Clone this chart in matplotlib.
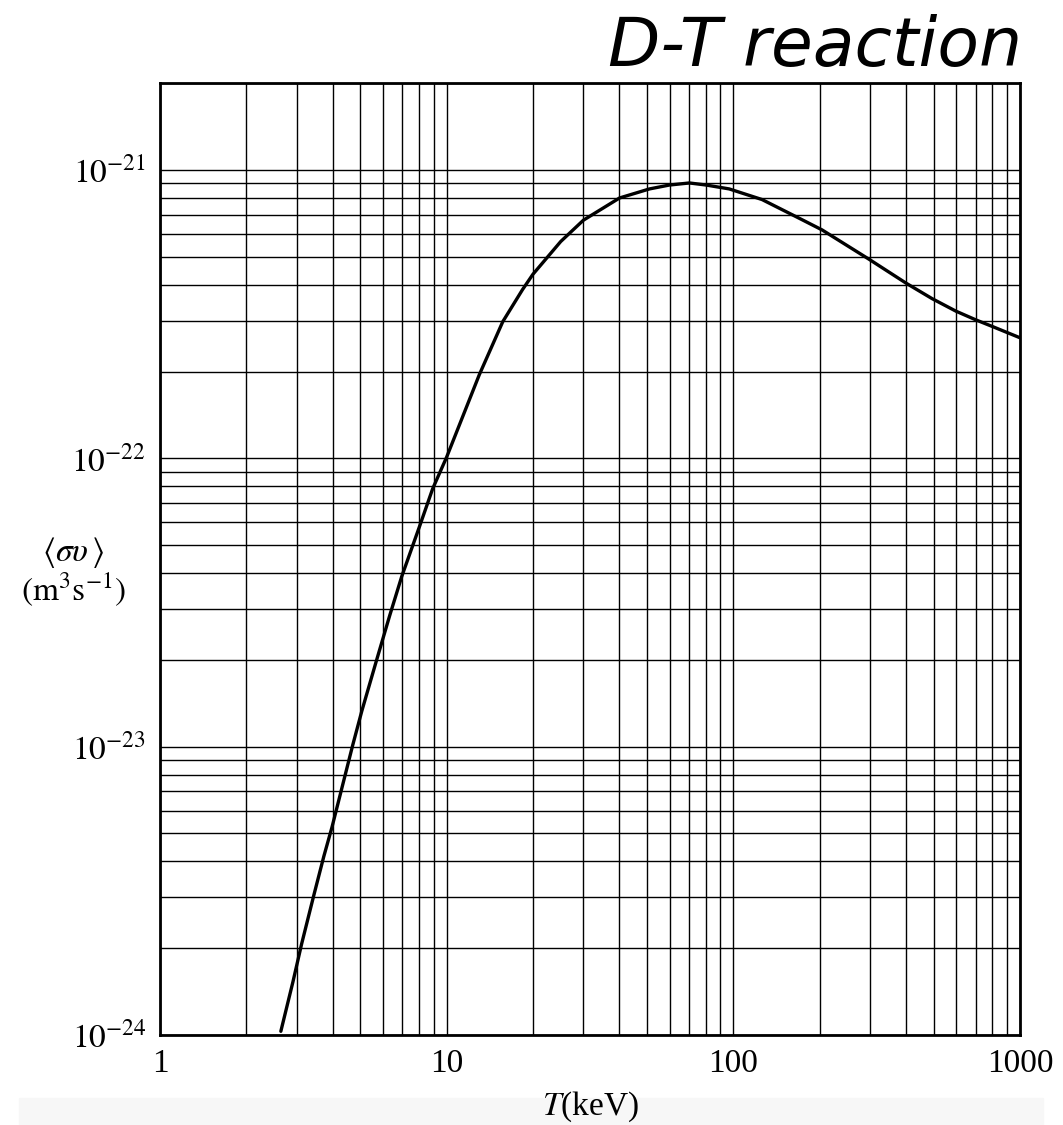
import matplotlib
matplotlib.use('Agg')
import matplotlib.pyplot as plt
from matplotlib.patches import Rectangle
from matplotlib.ticker import LogLocator, FixedLocator

# D-T reactivity: temperature (keV) and <sigma v> (m^3/s)
T_keV = [2.64, 2.91, 3.12, 3.44, 3.73, 3.98, 4.70, 5.06, 5.70, 6.33, 6.97, 8.05,
         8.94, 10.0, 13.0, 15.7, 18.4, 20.0, 25.0, 30.0, 40.1, 51.0, 59.8,
         70.3, 80.5, 96.8, 126, 170, 204, 298, 401, 494, 598, 703, 799, 1000]
sigma_v = [1.03e-24, 1.53e-24, 2.07e-24, 3.05e-24, 4.17e-24, 5.25e-24, 1.01e-23,
           1.33e-23, 2.0e-23, 2.85e-23, 3.89e-23, 5.82e-23, 7.85e-23, 1.01e-22,
           1.95e-22, 2.98e-22, 3.85e-22, 4.35e-22, 5.65e-22, 6.7e-22, 8.0e-22,
           8.6e-22, 8.87e-22, 9.02e-22, 8.87e-22, 8.6e-22, 7.9e-22, 6.8e-22,
           6.2e-22, 4.9e-22, 4.05e-22, 3.58e-22, 3.24e-22, 3.02e-22, 2.87e-22,
           2.62e-22]

x_ticks = [1, 10, 100, 1000]
x_labels = ['1', '10', '100', '1000']
y_ticks = [1e-24, 1e-23, 1e-22, 1e-21]
y_labels = [r'$10^{-24}$', r'$10^{-23}$', r'$10^{-22}$', r'$10^{-21}$']

plt.rcParams['mathtext.fontset'] = 'stix'
plt.rcParams['font.family'] = ['Liberation Serif', 'DejaVu Serif']

fig = plt.figure(figsize=(10.63, 11.25), dpi=100)
ax = fig.add_axes([0.1505, 0.080, 0.809, 0.846])

ax.plot(T_keV, sigma_v, color='black', lw=2.4, zorder=3,
        solid_joinstyle='round', solid_capstyle='round')

ax.set_xscale('log')
ax.set_yscale('log')
ax.set_xlim(1, 1000)
ax.set_ylim(1e-24, 2e-21)

# graph-paper style grid: every decade and every sub-decade line
ax.xaxis.set_major_locator(FixedLocator(x_ticks))
ax.xaxis.set_minor_locator(LogLocator(base=10, subs=range(2, 10)))
ax.yaxis.set_major_locator(FixedLocator(y_ticks))
ax.yaxis.set_minor_locator(LogLocator(base=10, subs=range(2, 10)))
ax.set_xticklabels(x_labels)
ax.set_yticklabels(y_labels)
ax.xaxis.set_minor_formatter(plt.NullFormatter())
ax.yaxis.set_minor_formatter(plt.NullFormatter())
ax.grid(which='both', color='black', lw=1.0)
ax.tick_params(which='both', length=0, labelsize=24, pad=10)

for s in ax.spines.values():
    s.set_linewidth(2.0)

# y label placed to the left like the scanned figure
fig.text(0.069, 0.509, r'$\langle\sigma\upsilon\,\rangle$', ha='center', va='center', fontsize=24)
fig.text(0.069, 0.476, r'$(\mathrm{m}^3\mathrm{s}^{-1})$', ha='center', va='center', fontsize=24)

# light grey strip at the bottom behind the x label
fig.patches.append(Rectangle((0.018, 0.0), 0.963, 0.024, transform=fig.transFigure,
                             color='#f7f7f7', zorder=0))
fig.text(0.555, 0.016, r'$T$(keV)', ha='center', va='center', fontsize=24)

fig.text(0.962, 0.958, 'D-T reaction', ha='right', va='center', fontsize=49,
         style='italic', family=['DejaVu Sans'], color='black')

fig.savefig('out.png', dpi=100)
